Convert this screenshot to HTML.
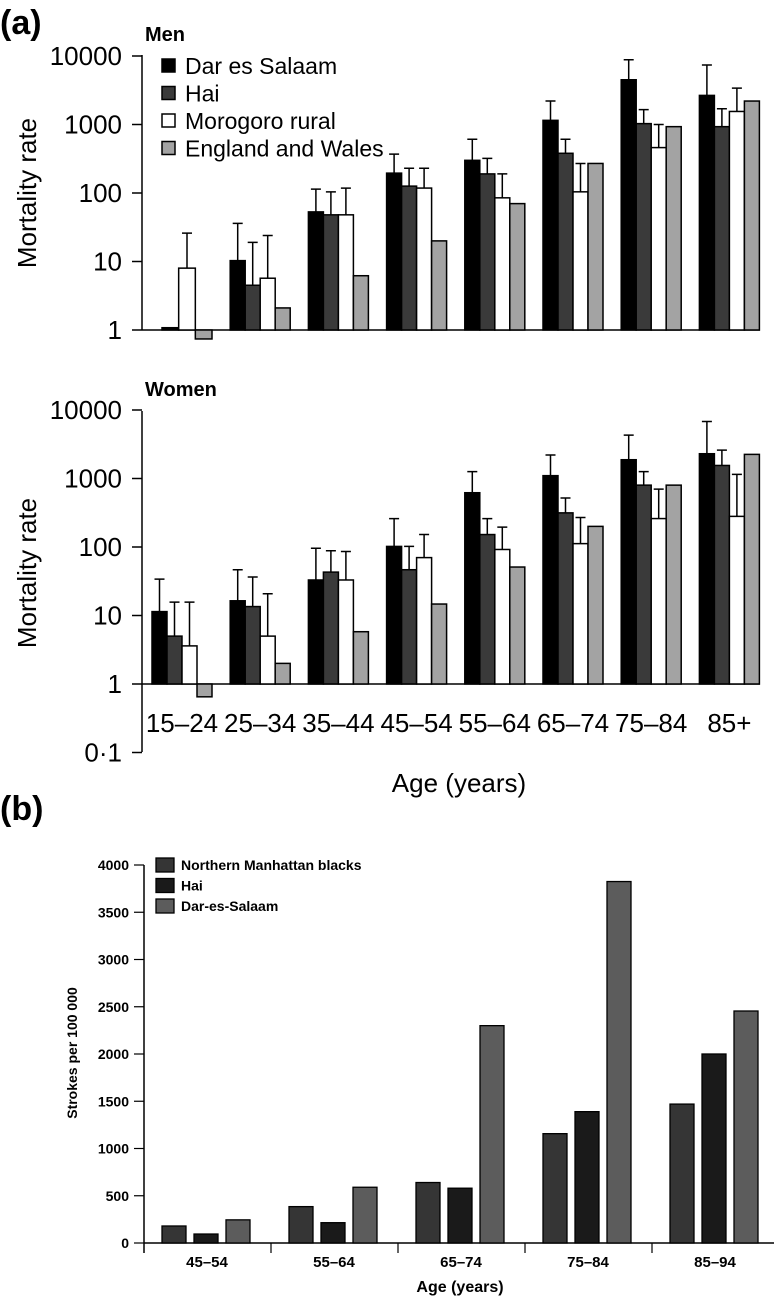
<!DOCTYPE html>
<html><head><meta charset="utf-8">
<style>
body{margin:0;background:#fff;}
svg{display:block;}
text{font-family:"Liberation Sans Narrow","Liberation Sans",sans-serif;}
</style></head>
<body>
<svg id="c" width="774" height="1302" viewBox="0 0 774 1302" xmlns="http://www.w3.org/2000/svg">
<text x="0" y="34" font-size="34" font-weight="bold" font-family="Liberation Sans">(a)</text>
<text x="145" y="41" font-size="20" font-weight="bold">Men</text>
<text x="145" y="396" font-size="20" font-weight="bold">Women</text>
<text x="0" y="820" font-size="34" font-weight="bold" font-family="Liberation Sans">(b)</text>
<g id="g"></g>
</svg>
<script>
const ageGroupsA = ["15–24","25–34","35–44","45–54","55–64","65–74","75–84","85+"];
const seriesA = ["Dar es Salaam","Hai","Morogoro rural","England and Wales"];
const menDES = [1.08,10.3,53,195,300,1150,4500,2660];
const menHai = [null,4.5,48,126,190,380,1030,930];
const menMor = [8,5.7,48,118,85,104,460,1550];
const menEW = [0.74,2.1,6.2,20,70,270,930,2200];
const menDESerr = [null,36,114,370,610,2200,8800,7400];
const menHaiErr = [null,19,104,230,320,610,1650,1700];
const menMorErr = [26,24,118,230,190,270,1000,3400];
const womenDES = [11.4,16.4,33,102,620,1100,1880,2300];
const womenHai = [5.0,13.5,43,46.6,152,315,800,1550];
const womenMor = [3.6,5.0,33,70,92,112,260,280];
const womenEW = [0.65,2.0,5.8,14.7,51,200,800,2250];
const womenDESerr = [34,46.6,96,260,1260,2200,4300,6800];
const womenHaiErr = [15.7,36.5,88,102,260,520,1260,2600];
const womenMorErr = [15.7,20.8,86,152,195,270,700,1150];
const logTicks = [10000,1000,100,10,1];
const logTickLabels = ["10000","1000","100","10","1"];
const ageGroupsB = ["45–54","55–64","65–74","75–84","85–94"];
const seriesB = ["Northern Manhattan blacks","Hai","Dar-es-Salaam"];
const bNMB = [180,385,640,1157,1470];
const bHai = [95,215,580,1390,2000];
const bDES = [245,590,2300,3825,2455];
const bTicks = [0,500,1000,1500,2000,2500,3000,3500,4000];

const NS="http://www.w3.org/2000/svg";
const G=document.getElementById('g');
function mk(tag,attrs,parent){const e=document.createElementNS(NS,tag);for(const k in attrs)e.setAttribute(k,attrs[k]);(parent||G).appendChild(e);return e;}
const colA=["#000","#3a3a3a","#fff","#a3a3a3"];

function logPanel(baseY,topY,botY,vals,errs,prefix,extraTick){
  const yv=v=>baseY-68.5*Math.log10(v);
  let e=mk('line',{x1:142,y1:topY,x2:142,y2:botY,stroke:'#000','stroke-width':1.5});
  
  
  e=mk('line',{x1:142,y1:baseY,x2:760,y2:baseY,stroke:'#000','stroke-width':1.5});
  
  
  const ticks=logTicks.slice(), labels=logTickLabels.slice();
  if(extraTick){ticks.push(0.1);labels.push("0·1");}
  ticks.forEach((t,i)=>{
    const y=yv(t);
    let l=mk('line',{x1:132,y1:y,x2:142,y2:y,stroke:'#000','stroke-width':1.5});
    
    
    let tx=mk('text',{x:122,y:y+9,'font-size':26,'text-anchor':'end'});
    tx.textContent=labels[i];
    
    
  });
  ageGroupsA.forEach((g,gi)=>{
    const present=[0,1,2,3].filter(s=>vals[s][gi]!=null);
    const gs=152+78.2*gi;
    const n=present.length;
    const w=n===4?15:50/n;
    const start=n===4?gs:gs+10;
    present.forEach((s,k)=>{
      const v=vals[s][gi];
      const x=start+k*w;
      const y=yv(v);
      const top=Math.min(y,baseY), h=Math.abs(baseY-y);
      const r=mk('rect',{x:x,y:top,width:w,height:Math.max(h,2),fill:colA[s],stroke:'#000','stroke-width':1.5});
      
      
      if(s<3 && errs[s][gi]!=null){
        const ey=yv(errs[s][gi]);
        const cx=x+w/2;
        let el=mk('path',{d:`M${cx},${top} V${ey} M${cx-5},${ey} H${cx+5}`,stroke:'#000','stroke-width':1.5,fill:'none'});
        
        
      }
    });
  });
}
logPanel(330,55,330,[menDES,menHai,menMor,menEW],[menDESerr,menHaiErr,menMorErr],'men',false);
logPanel(684,411,752,[womenDES,womenHai,womenMor,womenEW],[womenDESerr,womenHaiErr,womenMorErr],'women',true);

seriesA.forEach((s,i)=>{
  const y=66+i*27.5;
  let r=mk('rect',{x:162,y:y-7,width:13,height:13,fill:colA[i],stroke:'#000','stroke-width':1.5});
  
  
  let t=mk('text',{x:185,y:y+8,'font-size':23});
  t.textContent=s;
  
  
});
[[193,'men-y-axis-title'],[573,'women-y-axis-title']].forEach(([cy,n])=>{
  let t=mk('text',{x:0,y:0,'font-size':26,'text-anchor':'middle',transform:`translate(36,${cy}) rotate(-90)`,'font-family':'Liberation Sans'});
  t.textContent="Mortality rate";
  
  
});
ageGroupsA.forEach((g,gi)=>{
  let t=mk('text',{x:182+78.2*gi,y:732,'font-size':26,'text-anchor':'middle'});
  t.textContent=g;
  
  
});
let at=mk('text',{x:459,y:792,'font-size':26,'text-anchor':'middle'});
at.textContent="Age (years)";



const by0=1243, bs=378/4000;
const yb=v=>by0-v*bs;
let e=mk('line',{x1:144,y1:yb(4000),x2:144,y2:by0+10,stroke:'#000','stroke-width':1.5});


e=mk('line',{x1:144,y1:by0,x2:780,y2:by0,stroke:'#000','stroke-width':1.5});


bTicks.forEach(t=>{
  let l=mk('line',{x1:134,y1:yb(t),x2:144,y2:yb(t),stroke:'#000','stroke-width':1.2});
  
  
  let tx=mk('text',{x:129,y:yb(t)+5,'font-size':14,'text-anchor':'end','font-weight':'bold'});
  tx.textContent=String(t);
  
  
});
const colB=["#353535","#1a1a1a","#5c5c5c"];
const bVals=[bNMB,bHai,bDES];
ageGroupsB.forEach((g,gi)=>{
  const x0=144+127*gi;
  let l=mk('line',{x1:x0+127,y1:by0,x2:x0+127,y2:by0+10,stroke:'#000','stroke-width':1.2});
  
  
  bVals.forEach((arr,s)=>{
    const x=x0+18+s*32;
    const y=yb(arr[gi]);
    let r=mk('rect',{x:x,y:y,width:24,height:by0-y,fill:colB[s],stroke:'#000','stroke-width':1.3});
    
    
  });
  let t=mk('text',{x:x0+63,y:1267,'font-size':15,'text-anchor':'middle','font-weight':'bold'});
  t.textContent=g;
  
  
});
seriesB.forEach((s,i)=>{
  const y=865+i*20.5;
  let r=mk('rect',{x:156,y:y-7,width:18,height:14,fill:colB[i],stroke:'#000','stroke-width':1.3});
  
  
  let t=mk('text',{x:181,y:y+5,'font-size':14,'font-weight':'bold'});
  t.textContent=s;
  
  
});
let yt=mk('text',{x:0,y:0,'font-size':14,'font-weight':'bold','text-anchor':'middle',transform:'translate(77,1053) rotate(-90)'});
yt.textContent="Strokes per 100 000";


let xt=mk('text',{x:460,y:1292,'font-size':16,'font-weight':'bold','text-anchor':'middle'});
xt.textContent="Age (years)";


</script>
</body></html>
